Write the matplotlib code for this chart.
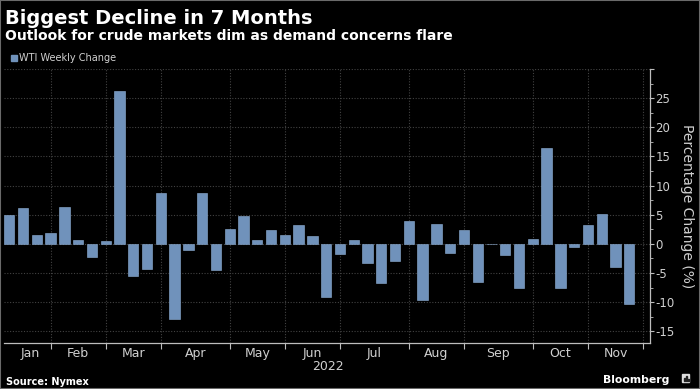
import matplotlib
matplotlib.use("Agg")
import matplotlib.pyplot as plt
from matplotlib.patches import Rectangle
from matplotlib.ticker import FixedLocator, MultipleLocator

# WTI weekly % change, Jan..Nov 2022
weekly_change = [
    4.9, 6.2, 1.55, 1.95, 6.3, 0.75, -2.3, 0.45, 26.3, -5.5,
    -4.25, 8.8, -12.8, -1.1, 8.8, -4.5, 2.5, 4.8, 0.6, 2.4,
    1.5, 3.2, 1.4, -9.1, -1.65, 0.6, -3.35, -6.75, -3.0, 4.0,
    -9.7, 3.4, -1.5, 2.4, -6.6, -0.1, -1.9, -7.5, 0.85, 16.5,
    -7.55, -0.6, 3.3, 5.2, -3.9, -10.3,
]
months = ["Jan", "Feb", "Mar", "Apr", "May", "Jun", "Jul", "Aug", "Sep", "Oct", "Nov"]
# first week index of each month (last entry = Dec)
month_start = [0, 3, 7, 11, 16, 20, 24, 29, 33, 38, 42, 46]
yticks = [-15, -10, -5, 0, 5, 10, 15, 20, 25, 30]

bar_color = "#7092bb"
grid_color = "#424242"
axis_color = "#bdbdbd"
text_color = "#d0d0d0"

fig = plt.figure(figsize=(7, 3.89), dpi=100, facecolor="black")
W, H = 700, 389
ax = fig.add_axes([4 / W, 1 - 343 / H, 646 / W, 274 / H], facecolor="black")

x = list(range(len(weekly_change)))
ax.bar(x, weekly_change, width=0.75, color=bar_color, edgecolor="#8fb0d6",
       linewidth=0.4, zorder=3)

ax.set_xlim(-0.38, 46.5)
ax.set_ylim(-17, 30)

# y axis on the right
ax.yaxis.tick_right()
ax.yaxis.set_label_position("right")
ax.set_yticks(yticks)
ax.set_yticklabels([str(t) if t < 30 else "" for t in yticks])
ax.yaxis.set_minor_locator(MultipleLocator(2.5))
ax.tick_params(axis="y", which="major", colors=axis_color, labelcolor=text_color,
               labelsize=8.5, length=3, width=0.8, pad=1)
ax.tick_params(axis="y", which="minor", colors=axis_color, length=2, width=0.6)
ax.set_ylabel("Percentage Change (%)", rotation=270, color=text_color,
              fontsize=10, labelpad=14)

# x axis: ticks at month boundaries, labels centred in between
ax.xaxis.set_major_locator(FixedLocator(month_start[1:]))
ax.set_xticklabels([])
mid = [(month_start[i] + month_start[i + 1]) / 2 for i in range(len(months))]
ax.xaxis.set_minor_locator(FixedLocator(mid))
ax.set_xticklabels(months, minor=True)
ax.tick_params(axis="x", which="major", colors=axis_color, length=4, width=0.8)
ax.tick_params(axis="x", which="minor", length=0, labelcolor=text_color,
               labelsize=9, pad=3)

ax.grid(True, which="major", color=grid_color, linestyle=(0, (1, 1.5)),
        linewidth=0.8, zorder=0)

for s in ["left", "top"]:
    ax.spines[s].set_visible(False)
for s in ["bottom", "right"]:
    ax.spines[s].set_color(axis_color)
    ax.spines[s].set_linewidth(0.9)

# titles and legend
fig.text(5 / W, 1 - 24 / H, "Biggest Decline in 7 Months", color="white",
         fontsize=14, fontweight="bold", va="baseline")
fig.text(5 / W, 1 - 40 / H, "Outlook for crude markets dim as demand concerns flare",
         color="white", fontsize=10, fontweight="bold", va="baseline")
fig.patches.append(Rectangle((11 / W, 1 - 61 / H), 6 / W, 6 / H, color=bar_color,
                             transform=fig.transFigure, figure=fig))
fig.text(19 / W, 1 - 58 / H, "WTI Weekly Change", color=text_color, fontsize=7,
         va="center")

fig.text(328 / W, 1 - 366 / H, "2022", color=text_color, fontsize=9,
         ha="center", va="center")

# footer
fig.text(6 / W, 1 - 385 / H, "Source: Nymex", color="white", fontsize=7,
         fontweight="bold", va="baseline")
fig.text(669 / W, 1 - 383 / H, "Bloomberg", color="white", fontsize=7.8,
         fontweight="bold", ha="right", va="baseline")
fig.patches.append(Rectangle((682 / W, 1 - 382 / H), 7 / W, 8 / H, color="#dddddd",
                             transform=fig.transFigure, figure=fig))
for bx, bh in [(683.5, 3), (685.5, 5), (687.5, 2)]:
    fig.patches.append(Rectangle((bx / W, 1 - 381 / H), 1 / W, bh / H, color="#222222",
                                 transform=fig.transFigure, figure=fig))

# thin grey frame
fig.patches.append(Rectangle((0, 0), 1, 1, fill=False, edgecolor="#6a6a6a",
                             linewidth=1.5, transform=fig.transFigure, figure=fig))

fig.savefig("out.png", dpi=100, facecolor="black")
